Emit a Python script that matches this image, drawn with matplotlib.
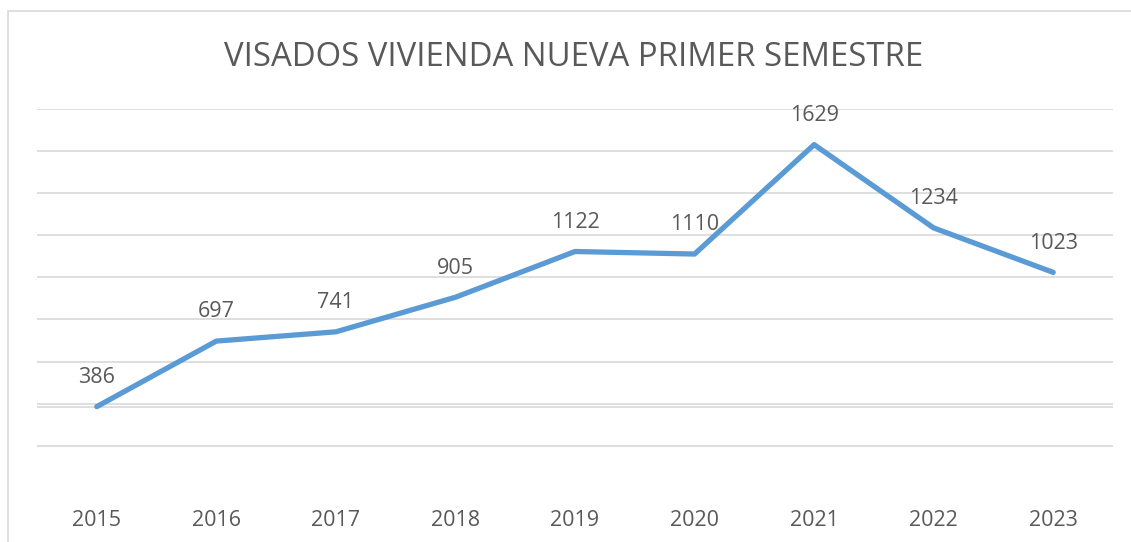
import matplotlib
matplotlib.use("Agg")
import matplotlib.pyplot as plt
from matplotlib.patches import Rectangle

years = ["2015", "2016", "2017", "2018", "2019", "2020", "2021", "2022", "2023"]
values = [386, 697, 741, 905, 1122, 1110, 1629, 1234, 1023]
title = "VISADOS VIVIENDA NUEVA PRIMER SEMESTRE"

plt.rcParams['font.family'] = ['Open Sans', 'DejaVu Sans']
text_color = "#595959"
grid_color = "#D9D9D9"
line_color = "#5B9BD5"

fig = plt.figure(figsize=(11.31, 5.42), dpi=100)
fig.patch.set_facecolor("white")

# outer chart border
fig.patches.append(Rectangle((8/1131, -0.05), 1.2, (542-11)/542 + 0.05,
                             transform=fig.transFigure, fill=False,
                             edgecolor=grid_color, linewidth=1.2))

ax = fig.add_axes([37/1131, (542-488)/542, 1076/1131, (488-108.6)/542])
x = list(range(len(years)))
ax.plot(x, values, color=line_color, linewidth=3.8, solid_capstyle='round',
        solid_joinstyle='round', zorder=3)
ax.set_xlim(-0.5, len(years) - 0.5)
ax.set_ylim(0, 1800)
ax.set_yticks(range(200, 1801, 200))
ax.yaxis.grid(True, color=grid_color, linewidth=1.2)
ax.axhline(values[0], color=grid_color, linewidth=1.2, zorder=1)
ax.set_axisbelow(True)
for s in ax.spines.values():
    s.set_visible(False)
ax.tick_params(axis='y', left=False, labelleft=False)
ax.tick_params(axis='x', bottom=False, pad=12, labelsize=15.5, labelcolor=text_color)
ax.set_xticks(x)
ax.set_xticklabels(years)

for xi, v in zip(x, values):
    ax.annotate(str(v), (xi, v), xytext=(0, 21), textcoords='offset points',
                ha='center', va='center', fontsize=15.5, color=text_color)

fig.text(574/1131, 1 - 57/542, title, ha='center', va='center',
         fontsize=23.7, color=text_color)

fig.savefig("out.png", dpi=100, facecolor="white")
